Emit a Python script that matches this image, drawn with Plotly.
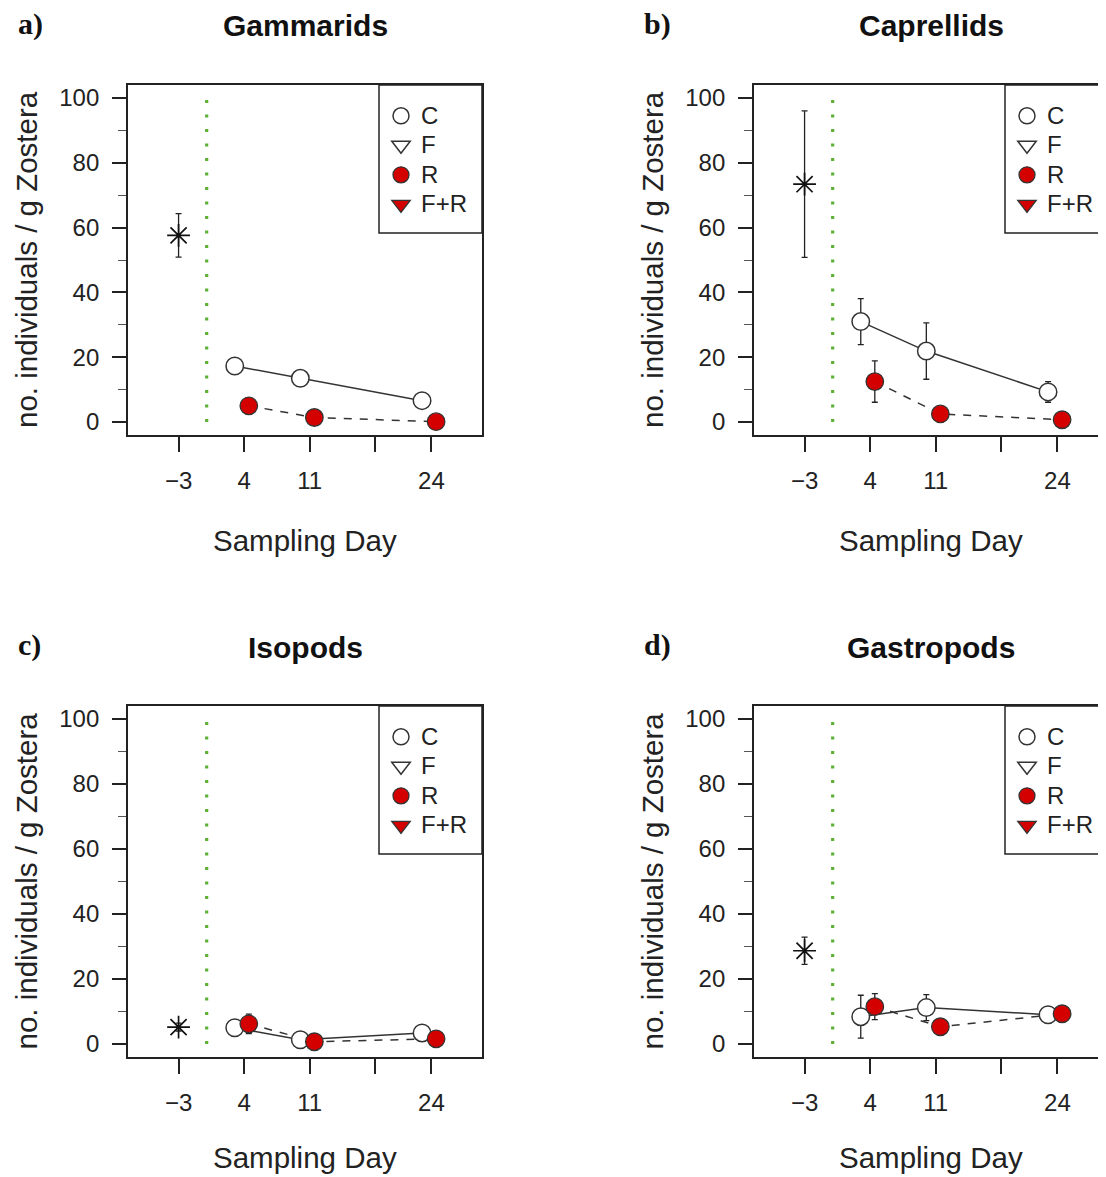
import plotly.graph_objects as go

# ---------------- data ----------------
panel_labels = ["a)", "b)", "c)", "d)"]
taxa = ["Gammarids", "Caprellids", "Isopods", "Gastropods"]
treatments = ["C", "F", "R", "F+R"]
sampling_days = [4, 11, 24]
baseline_day = -3
treatment_start_day = 0
x_tickvals = [-3, 4, 11, 18, 24]
x_ticktext = ["\u22123", "4", "11", "", "24"]
y_tickvals = [0, 20, 40, 60, 80, 100]
y_minor_tickvals = [10, 30, 50, 70, 90]

baseline_mean = [57.6, 73.4, 5.2, 28.7]
baseline_se = [6.7, 22.6, 1.2, 4.2]

gammarids_C = [17.3, 13.5, 6.6]
gammarids_C_se = [1.5, 1.5, 1.2]
gammarids_R = [5.0, 1.4, 0.1]
gammarids_R_se = [1.2, 0.6, 0.3]

caprellids_C = [31.0, 21.9, 9.3]
caprellids_C_se = [7.1, 8.7, 3.2]
caprellids_R = [12.5, 2.5, 0.7]
caprellids_R_se = [6.4, 1.0, 0.5]

isopods_C = [5.0, 1.3, 3.4]
isopods_C_se = [1.5, 0.5, 0.8]
isopods_R = [6.2, 0.7, 1.6]
isopods_R_se = [3.0, 0.4, 0.5]

gastropods_C = [8.4, 11.2, 9.0]
gastropods_C_se = [6.6, 4.0, 1.8]
gastropods_R = [11.5, 5.3, 9.3]
gastropods_R_se = [4.0, 1.0, 1.0]

C_values = [gammarids_C, caprellids_C, isopods_C, gastropods_C]
C_errors = [gammarids_C_se, caprellids_C_se, isopods_C_se, gastropods_C_se]
R_values = [gammarids_R, caprellids_R, isopods_R, gastropods_R]
R_errors = [gammarids_R_se, caprellids_R_se, isopods_R_se, gastropods_R_se]

# horizontal dodge of the treatment groups (days)
C_DODGE = -1.0
R_DODGE = 0.5

# ---------------- layout helpers ----------------
PAGE_OFF = 8                 # default body margin of the html page
W, H = 1106 - PAGE_OFF, 1177 - PAGE_OFF
FONT = "Liberation Sans, Arial, Helvetica, sans-serif"
INK = "#222222"
RED = "#d40000"
GREEN = "#5fb136"


def px_x(p):
    return (p - PAGE_OFF) / W


def px_y(p):
    return 1 - (p - PAGE_OFF) / H


# plot boxes in page pixels (left, right, top, bottom)
boxes = [(128, 482, 85, 435), (754, 1106, 85, 435),
         (128, 482, 706, 1057), (754, 1106, 706, 1057)]
xlabel_y = [540, 540, 1157, 1157]
FULL_W = 354
X_MIN, X_MAX = -8.4, 29.4
Y_RANGE = [-4, 104]

fig = go.Figure()
legend_names = ["legend", "legend2", "legend3", "legend4"]
shapes = []
annotations = []


def lname(t):
    return f'<span style="font-size:24px">{t}</span>'


for i in range(4):
    L, R, T, B = boxes[i]
    xa = "x" if i == 0 else f"x{i+1}"
    ya = "y" if i == 0 else f"y{i+1}"
    lg = legend_names[i]
    x_right = X_MIN + (X_MAX - X_MIN) * (R - L) / FULL_W
    err_style = dict(type="data", color=INK, thickness=1.3, width=3)

    # baseline (asterisk)
    fig.add_trace(go.Scatter(
        x=[baseline_day], y=[baseline_mean[i]], mode="markers",
        marker=dict(symbol="asterisk-open", size=19, color="#111111",
                    line=dict(color="#111111", width=1.7)),
        error_y=dict(array=[baseline_se[i]], **err_style),
        xaxis=xa, yaxis=ya, showlegend=False, legend=lg))

    cx = [d + C_DODGE for d in sampling_days]
    rx = [d + R_DODGE for d in sampling_days]

    # connecting lines + error bars
    fig.add_trace(go.Scatter(
        x=cx, y=C_values[i], mode="lines",
        line=dict(color="#333333", width=1.5),
        error_y=dict(array=C_errors[i], **err_style),
        xaxis=xa, yaxis=ya, showlegend=False, legend=lg))
    fig.add_trace(go.Scatter(
        x=rx, y=R_values[i], mode="lines",
        line=dict(color="#333333", width=1.5, dash="8px,8px"),
        error_y=dict(array=R_errors[i], **err_style),
        xaxis=xa, yaxis=ya, showlegend=False, legend=lg))

    # markers
    fig.add_trace(go.Scatter(
        x=cx, y=C_values[i], mode="markers", name=lname(treatments[0]),
        marker=dict(symbol="circle", size=17.5, color="white",
                    line=dict(color="#333333", width=1.5)),
        xaxis=xa, yaxis=ya, legend=lg, legendrank=1))
    fig.add_trace(go.Scatter(
        x=[None], y=[None], mode="markers", name=lname(treatments[1]),
        marker=dict(symbol="triangle-down", size=17, color="white",
                    line=dict(color="#333333", width=1.5)),
        xaxis=xa, yaxis=ya, legend=lg, legendrank=2))
    fig.add_trace(go.Scatter(
        x=rx, y=R_values[i], mode="markers", name=lname(treatments[2]),
        marker=dict(symbol="circle", size=17.5, color=RED,
                    line=dict(color="#333333", width=1.3)),
        xaxis=xa, yaxis=ya, legend=lg, legendrank=3))
    fig.add_trace(go.Scatter(
        x=[None], y=[None], mode="markers", name=lname(treatments[3]),
        marker=dict(symbol="triangle-down", size=17, color=RED,
                    line=dict(color="#333333", width=1.3)),
        xaxis=xa, yaxis=ya, legend=lg, legendrank=4))

    mirror_y = R < 1106  # right edge of right-hand panels is cut off
    xkey = "xaxis" if i == 0 else f"xaxis{i+1}"
    ykey = "yaxis" if i == 0 else f"yaxis{i+1}"
    fig.update_layout(**{
        xkey: dict(domain=[px_x(L), min(1.0, px_x(R))],
                   range=[X_MIN, x_right],
                   anchor=ya, tickmode="array", tickvals=x_tickvals,
                   ticktext=x_ticktext, ticks="outside", ticklen=15,
                   tickwidth=1.5, tickcolor=INK, showline=True,
                   linecolor=INK, linewidth=1.8, mirror=True,
                   showgrid=False, zeroline=False,
                   tickfont=dict(family=FONT, size=24, color=INK),
                   ticklabelstandoff=8),
        ykey: dict(domain=[px_y(B), px_y(T)], range=Y_RANGE, anchor=xa,
                   tickmode="array", tickvals=y_tickvals, ticks="outside",
                   ticklen=14, tickwidth=1.5, tickcolor=INK,
                   minor=dict(tickmode="array", tickvals=y_minor_tickvals,
                              ticks="outside", ticklen=8, tickwidth=1.2,
                              tickcolor="#555555", showgrid=False),
                   showline=True, linecolor=INK, linewidth=1.8,
                   mirror=mirror_y, showgrid=False, zeroline=False,
                   tickfont=dict(family=FONT, size=24, color=INK),
                   ticklabelstandoff=8),
    })

    # treatment start (dotted green line)
    shapes.append(dict(type="line", xref=xa, yref=ya,
                       x0=treatment_start_day, x1=treatment_start_day,
                       y0=y_tickvals[0], y1=y_tickvals[-1],
                       line=dict(color=GREEN, width=3.2, dash="3px,11.5px"),
                       layer="above"))

    # legend frame
    lgL = L + 251
    shapes.append(dict(type="rect", xref="paper", yref="paper",
                       x0=px_x(lgL), x1=px_x(L + 354), y0=px_y(T + 148),
                       y1=px_y(T), line=dict(color=INK, width=1.5),
                       fillcolor="white", layer="above"))
    fig.update_layout(**{lg: dict(
        x=px_x(lgL + 2), y=px_y(T + 11), xanchor="left", yanchor="top",
        bgcolor="rgba(0,0,0,0)", borderwidth=0, itemsizing="trace",
        font=dict(family=FONT, size=20.4, color=INK), tracegroupgap=0)})

    cxp = (L + L + 354) / 2
    cyp = (T + B) / 2
    title_y = T - 59
    annotations += [
        dict(text=f"<b>{taxa[i]}</b>", x=px_x(cxp), y=px_y(title_y),
             xref="paper", yref="paper", showarrow=False,
             xanchor="center", yanchor="middle",
             font=dict(family=FONT, size=30, color="#111111")),
        dict(text=f"<b>{panel_labels[i]}</b>", x=px_x(L - 112),
             y=px_y(title_y - 2), xref="paper", yref="paper",
             showarrow=False, xanchor="left", yanchor="middle",
             font=dict(family="Liberation Serif, Times New Roman, serif",
                       size=30, color="#111111")),
        dict(text="no. individuals / g Zostera", x=px_x(L - 102),
             y=px_y(cyp), xref="paper", yref="paper", showarrow=False,
             textangle=-90, xanchor="center", yanchor="middle",
             font=dict(family=FONT, size=29.5, color=INK)),
        dict(text="Sampling Day", x=px_x(cxp), y=px_y(xlabel_y[i]),
             xref="paper", yref="paper", showarrow=False,
             xanchor="center", yanchor="middle",
             font=dict(family=FONT, size=29.5, color=INK)),
    ]

fig.update_layout(width=W, height=H, margin=dict(l=0, r=0, t=0, b=0),
                  paper_bgcolor="white", plot_bgcolor="white",
                  shapes=shapes, annotations=annotations,
                  hovermode=False)

fig.write_html("out.html")
